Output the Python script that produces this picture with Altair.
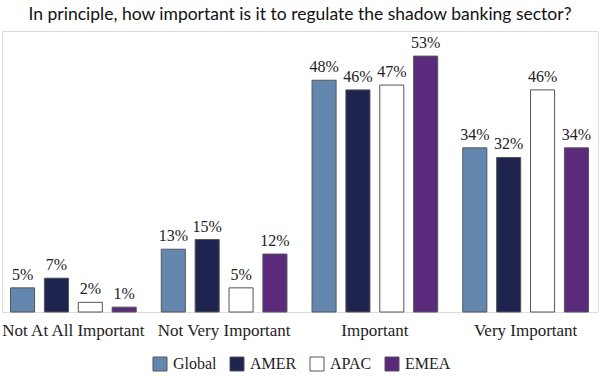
import altair as alt
import pandas as pd

categories = ["Not At All Important", "Not Very Important", "Important", "Very Important"]
regions = ["Global", "AMER", "APAC", "EMEA"]
global_vals = [5, 13, 48, 34]
amer_vals = [7, 15, 46, 32]
apac_vals = [2, 5, 47, 46]
emea_vals = [1, 12, 53, 34]
colors = ["#6487b0", "#1f2350", "#ffffff", "#5c2a7c"]

rows = []
for region, vals in zip(regions, [global_vals, amer_vals, apac_vals, emea_vals]):
    for c, v in zip(categories, vals):
        rows.append({"category": c, "region": region, "value": v, "label": f"{v}%"})
df = pd.DataFrame(rows)

serif = "Liberation Serif"

x = alt.X("category:N", sort=categories, title=None,
          scale=alt.Scale(range=[-4, 599], paddingInner=0, paddingOuter=0),
          axis=alt.Axis(labelAngle=0, ticks=False, domain=False, labelFont=serif,
                        labelFontSize=17, labelColor="#222", labelPadding=10))
xo = alt.XOffset("region:N", sort=regions,
                 scale=alt.Scale(paddingInner=0.29, paddingOuter=0.37))
y = alt.Y("value:Q", scale=alt.Scale(domain=[0, 58.2]), axis=None)

bars = alt.Chart(df).mark_bar(stroke="#555555", strokeWidth=1).encode(
    x=x, xOffset=xo, y=y,
    color=alt.Color("region:N", sort=regions,
                    scale=alt.Scale(domain=regions, range=colors),
                    legend=alt.Legend(title=None, orient="none", direction="horizontal",
                                      legendX=150, legendY=325, symbolType="square",
                                      symbolSize=196, symbolStrokeColor="#555555",
                                      symbolStrokeWidth=1, labelFont=serif,
                                      labelFontSize=16, labelColor="#222",
                                      columnPadding=11, labelOffset=5)),
)

text = alt.Chart(df).mark_text(dy=-5, baseline="bottom", font=serif, fontSize=16,
                               color="#222").encode(
    x=x, xOffset=xo, y=y, text="label:N")

chart = (bars + text).properties(
    width=596, height=281,
    autosize=alt.AutoSizeParams(type="none"),
    padding={"left": 2, "top": 31, "right": 2, "bottom": 64},
    title=alt.Title("In principle, how important is it to regulate the shadow banking sector?",
                    font="Lato", fontSize=17.5, fontWeight="normal", color="#111",
                    anchor="middle", offset=8),
).configure_view(stroke="#999999", strokeWidth=1.5).configure(background="white")

chart.save("out.html", embed_options={"renderer": "svg", "actions": False})
